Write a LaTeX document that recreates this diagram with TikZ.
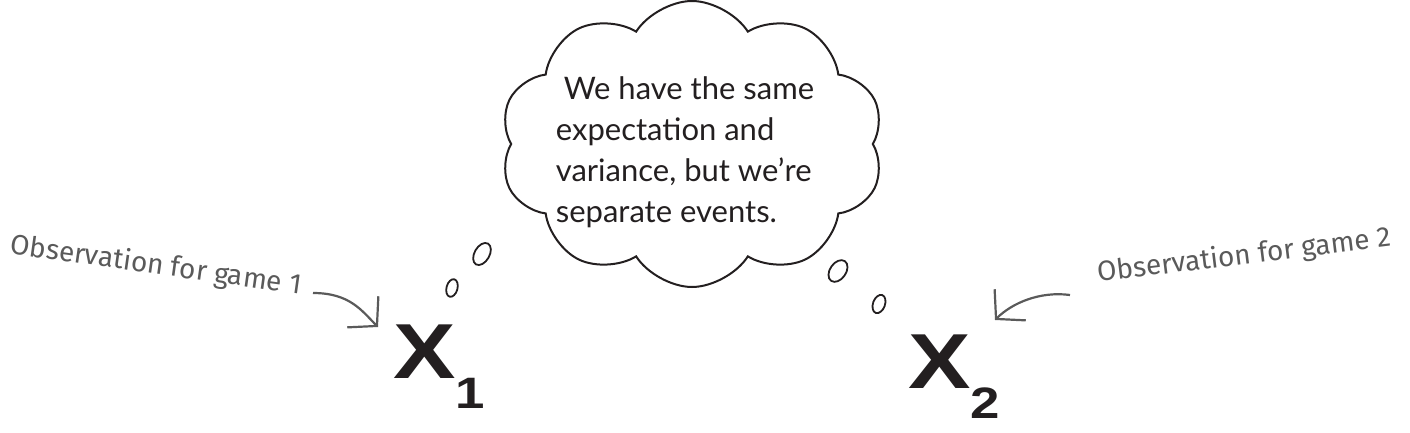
\documentclass[tikz,border=0pt]{standalone}
\usepackage{fontspec}
\setmainfont{Lato}
\newfontfamily\penfont{Fira Sans}
\newfontfamily\varfont{Liberation Sans}
\usepackage{tikz}
\usetikzlibrary{shapes,arrows.meta,positioning}
\definecolor{pencil}{RGB}{90,90,90}
\definecolor{ink}{RGB}{35,31,32}
\tikzstyle{note} = [font=\penfont\fontsize{14}{14}\selectfont, text=pencil, inner sep=0]
\tikzstyle{pointer} = [pencil, line width=1.1pt, -{Straight Barb[length=10pt,width=22pt]}]
\tikzstyle{puff} = [ellipse, draw=ink, line width=0.9pt, inner sep=0]
\tikzstyle{bigvar} = [font=\varfont\bfseries, text=ink, inner sep=0, xscale=1.2]

\begin{document}
\begin{tikzpicture}[x=0.5pt, y=-0.5pt]
\useasboundingbox (0,0) rectangle (1410,433);

% Thought bubble
\node[cloud, cloud puffs=10, cloud puff arc=115, aspect=1.35, draw=ink, line width=1pt, minimum width=192pt, minimum height=143pt] (bubble) at (692,144) {};
\node[align=left, text=ink, font=\fontsize{15.5}{20.5}\selectfont, inner sep=0] (says) at (685,152) {\ We have the same\\expectation and\\variance, but we're\\separate events.};

% Little puffs leading to the variables
\node[puff, minimum width=7.5pt, minimum height=12pt, rotate=-30] (puff1) at (482,254) {};
\node[puff, minimum width=5.5pt, minimum height=9pt, rotate=-15] (puff2) at (452,288) {};
\node[puff, minimum width=8pt, minimum height=12pt, rotate=-35] (puff3) at (838,271) {};
\node[puff, minimum width=6pt, minimum height=9.5pt, rotate=-20] (puff4) at (879,304) {};

% Variables
\node[bigvar, anchor=base west] (x1) at (393,378) {\fontsize{39}{39}\selectfont X\raisebox{-15pt}{\fontsize{22}{22}\selectfont 1}};
\node[bigvar, anchor=base west] (x2) at (908,388) {\fontsize{39}{39}\selectfont X\raisebox{-15pt}{\fontsize{22}{22}\selectfont 2}};

% Labels
\node[note, rotate=-8] (obs1) at (156,266) {Observation for game 1};
\node[note, rotate=7] (obs2) at (1244,256) {Observation for game 2};

% Arrows
\coordinate (tail1) at (313,293);
\coordinate (tip1) at (378,327);
\coordinate (tail2) at (1070,295);
\coordinate (tip2) at (995,320);
\draw[pointer] (tail1) .. controls (350,293) and (362,311) .. (tip1);
\draw[pointer] (tail2) .. controls (1040,291) and (1012,303) .. (tip2);

\end{tikzpicture}
\end{document}
